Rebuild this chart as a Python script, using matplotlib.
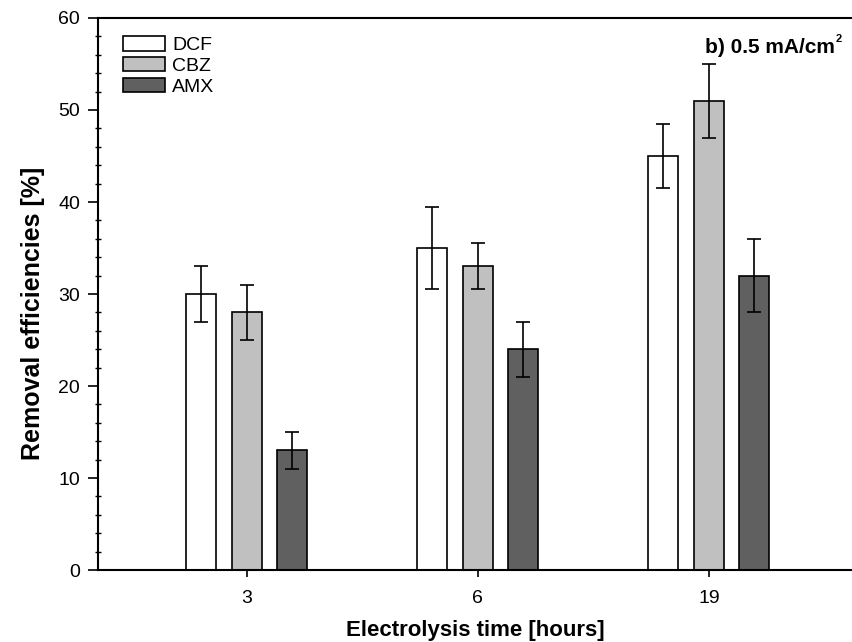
import numpy as np
import matplotlib.pyplot as plt
from matplotlib.ticker import MultipleLocator

plt.rcParams['font.family'] = ['Liberation Sans', 'DejaVu Sans']

times = ["3", "6", "19"]
compounds = ["DCF", "CBZ", "AMX"]
dcf = [30, 35, 45]
dcf_err = [3, 4.5, 3.5]
cbz = [28, 33, 51]
cbz_err = [3, 2.5, 4]
amx = [13, 24, 32]
amx_err = [2, 3, 4]

values = [dcf, cbz, amx]
errors = [dcf_err, cbz_err, amx_err]
colors = ["white", "#c0c0c0", "#606060"]

fig = plt.figure(figsize=(8.52, 6.42), dpi=100)
ax = fig.add_axes([0.115, 0.112, 0.885, 0.860])

x = np.arange(len(times))
width = 0.13
offsets = [-0.2, 0.0, 0.195]
for vals, errs, col, off, name in zip(values, errors, colors, offsets, compounds):
    ax.bar(x + off, vals, width, color=col, edgecolor="black", linewidth=1.2,
           label=name, zorder=2)
    ax.errorbar(x + off, vals, yerr=errs, fmt="none", ecolor="black",
                elinewidth=1.2, capsize=5, capthick=1.2, zorder=3)

ax.set_xlim(-0.645, 2.62)
ax.set_ylim(0, 60)
ax.set_xticks(x)
ax.set_xticklabels(times)
ax.yaxis.set_major_locator(MultipleLocator(10))
ax.yaxis.set_minor_locator(MultipleLocator(2))
ax.tick_params(axis="both", which="major", labelsize=14, direction="out",
               length=7, width=1.2, pad=6)
ax.tick_params(axis="x", which="major", length=5, pad=9)
ax.tick_params(axis="y", which="minor", direction="inout", length=5, width=1)

ax.spines["right"].set_visible(False)
for s in ["left", "bottom", "top"]:
    ax.spines[s].set_linewidth(1.5)

ax.set_xlabel("Electrolysis time [hours]", fontsize=16, fontweight="bold", labelpad=10)
ax.set_ylabel("Removal efficiencies [%]", fontsize=18, fontweight="bold")
ax.yaxis.set_label_coords(-0.07, 0.465)

# panel label with a small superscript
ax.text(0.987, 0.962, "2", transform=ax.transAxes, ha="right", va="center",
        fontsize=8, fontweight="bold")
ax.annotate("b) 0.5 mA/cm", xy=(0.987, 0.947), xycoords="axes fraction",
            xytext=(-5, 0), textcoords="offset points", ha="right", va="center",
            fontsize=15, fontweight="bold")

ax.legend(loc="upper left", bbox_to_anchor=(0.012, 0.995), frameon=False,
          fontsize=14, handlelength=2.2, handleheight=0.75, labelspacing=0.15,
          handletextpad=0.35, borderpad=0.3)

fig.savefig("out.png", dpi=100)
